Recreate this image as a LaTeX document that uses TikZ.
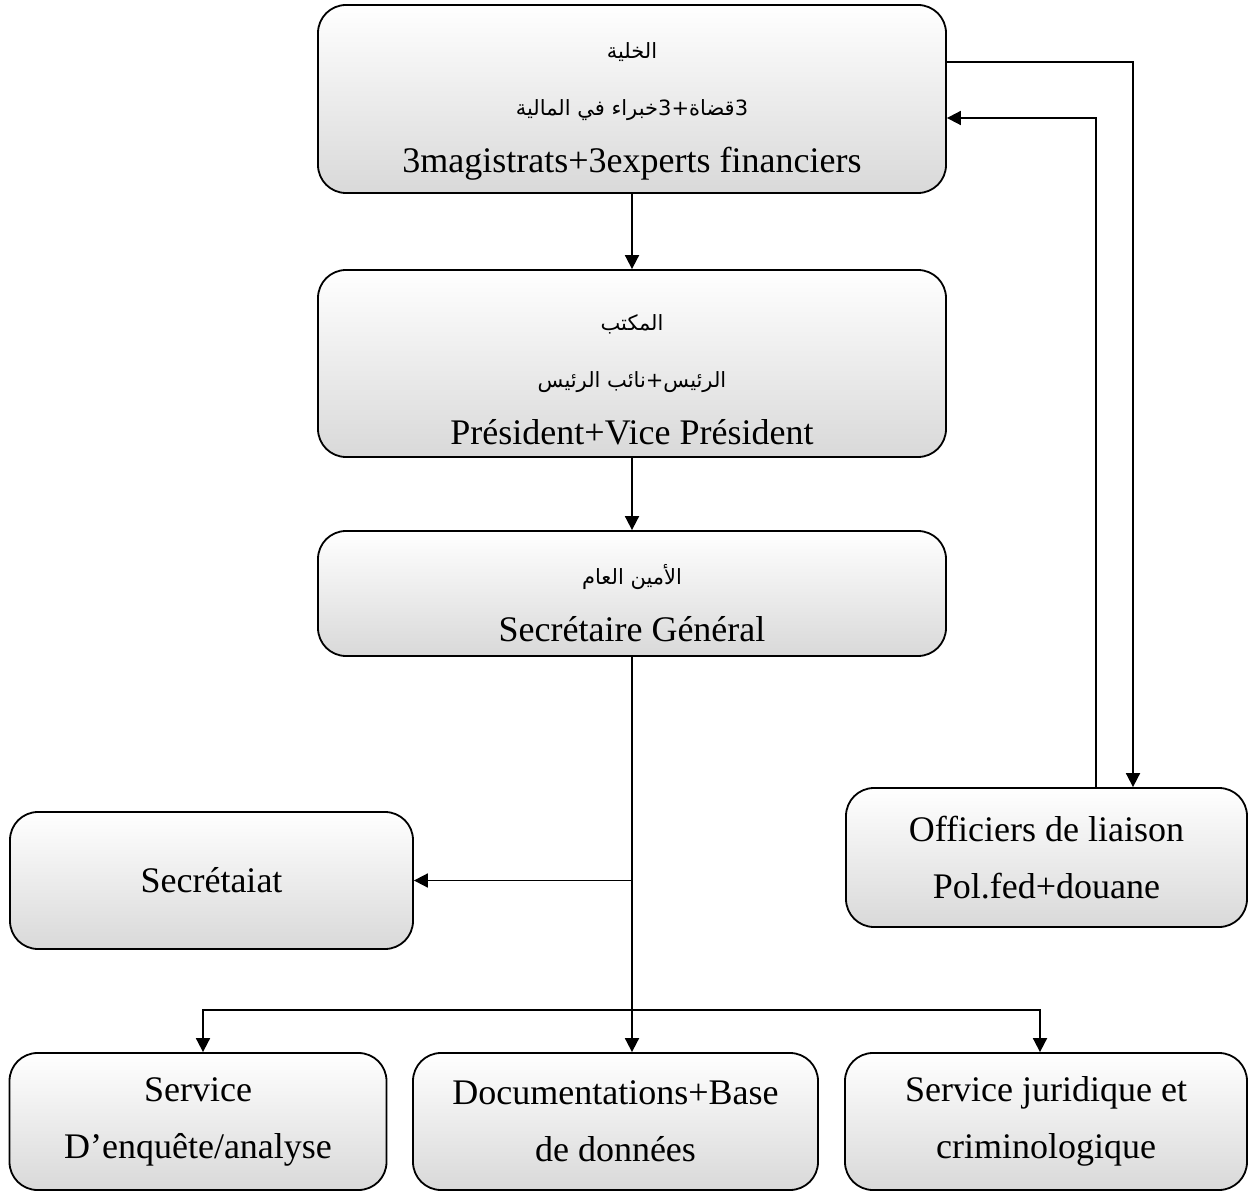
\documentclass[tikz,border=0pt]{standalone}
\usepackage{fontspec}
\setmainfont{Liberation Serif}
\newfontfamily\arabicfont[Script=Arabic]{DejaVu Sans}
\TeXXeTstate=1
\usetikzlibrary{arrows.meta}

\newcommand\artxt[1]{{\arabicfont\fontsize{10.5}{28.5}\selectfont\beginR #1\endR}}
\newcommand\topgap[1]{\rule{0pt}{#1}}

\tikzset{
  orgbox/.style={draw, line width=0.9pt, rounded corners=14pt,
    top color=white, bottom color=gray!30, align=center, inner sep=0pt,
    font=\fontsize{18}{28.5}\selectfont},
  arr/.style={line width=0.9pt, -{Triangle[length=7pt,width=7pt]}},
  plain/.style={line width=0.9pt}
}

\begin{document}
\begin{tikzpicture}[x=0.5pt, y=-0.5pt]

	\useasboundingbox (0,0) rectangle (1248,1192);

	% top of the chart
	\node[orgbox, minimum width=314pt, minimum height=94pt] (cell) at (632,99)
		{\topgap{20pt}\artxt{الخلية}\\ \artxt{3قضاة+3خبراء في المالية}\\ 3magistrats+3experts financiers};
	\node[orgbox, minimum width=314pt, minimum height=93.5pt] (bur) at (632,363.5)
		{\topgap{24pt}\artxt{المكتب}\\ \artxt{الرئيس+نائب الرئيس}\\ Président+Vice Président};
	\node[orgbox, minimum width=314pt, minimum height=62.5pt] (sg) at (632,593.5)
		{\topgap{20pt}\artxt{الأمين العام}\\ Secrétaire Général};

	% side boxes
	\node[orgbox, minimum width=201.5pt, minimum height=68.5pt] (secr) at (211.5,880.5)
		{Secrétaiat};
	\node[orgbox, minimum width=200.5pt, minimum height=69.5pt] (off) at (1046.5,857.5)
		{Officiers de liaison\\ Pol.fed+douane};

	% services
	\node[orgbox, minimum width=188.5pt, minimum height=68.5pt] (enq) at (198,1121.5)
		{Service\\ D’enquête/analyse};
	\node[orgbox, minimum width=202.5pt, minimum height=68.5pt] (doc) at (615.5,1121.5)
		{Documentations+Base\\ de données};
	\node[orgbox, minimum width=201pt, minimum height=68.5pt] (jur) at (1046,1121.5)
		{Service juridique et\\ criminologique};

	\coordinate (outR) at (1133,62);
	\coordinate (inR) at (1096,118);
	\coordinate (bus) at (632,1010);

	\draw[arr] (cell.south) -- (bur.north);
	\draw[arr] (bur.south) -- (sg.north);
	\draw[arr] (sg.south) -- (sg.south |- doc.north);
	\draw[arr] (sg.south |- secr.east) -- (secr.east);
	\draw[arr] (bus) -| ([xshift=2.5pt]enq.north);
	\draw[arr] (bus) -| ([xshift=-3pt]jur.north);

	\draw[arr] (cell.east |- outR) -| (off.north -| outR);
	\draw[arr] (off.north -| inR) |- (cell.east |- inR);

\end{tikzpicture}
\end{document}
